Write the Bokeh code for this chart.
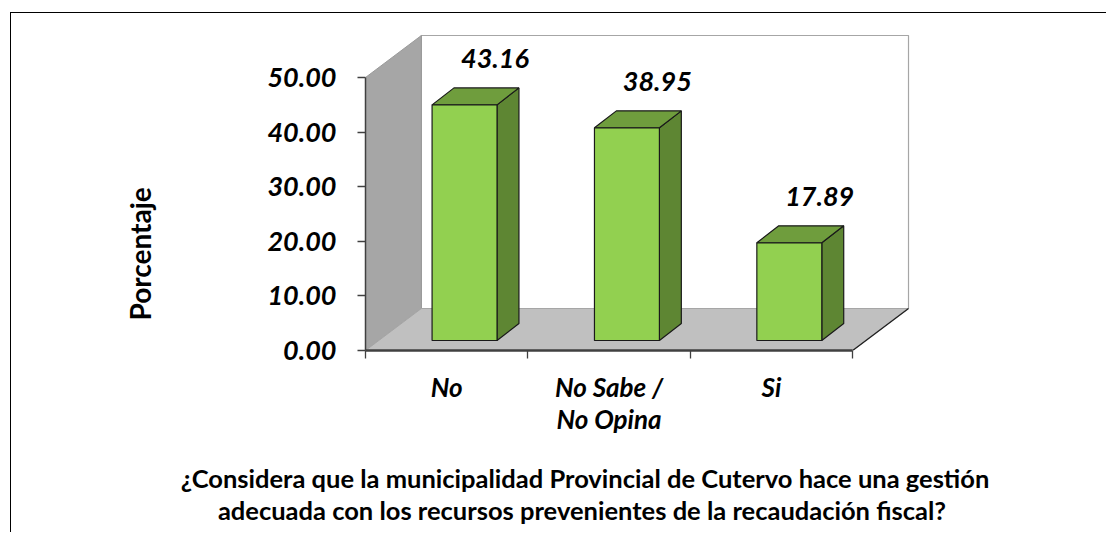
from bokeh.plotting import figure
from bokeh.models import Range1d, FixedTicker, LinearAxis, PrintfTickFormatter, Title
from bokeh.core.properties import value
from bokeh.embed import file_html
from bokeh.resources import INLINE

# ---- data ----
cat_line1 = ["No", "No Sabe /", "Si"]
cat_line2 = ["", "No Opina", ""]
values = [43.16, 38.95, 17.89]
y_ticks = [0, 10, 20, 30, 40, 50]
y_label = "Porcentaje"
title_lines = ["¿Considera que la municipalidad Provincial de Cutervo hace una gestión",
               "adecuada con los recursos prevenientes  de la recaudación fiscal?"]

# ---- style / projection constants ----
FONT = "Lato"
DX, DY = 0.344, 7.69          # depth offset of the 3D box (x in category units, y in value units)
BOFF_X, BOFF_Y = 0.11, 1.83   # bar front face offset
BAR_W = 0.40
SDX, SDY = 0.135, 3.11        # bar depth
TITLE_X = 1.352               # horizontal centre of the chart title (x units)
N = len(values)
YMAX = y_ticks[-1]

p = figure(width=1096, height=520,
           x_range=Range1d(0, 3.658), y_range=Range1d(0, 60.44),
           x_axis_type=None, y_axis_type=None,
           output_backend="svg", toolbar_location=None,
           min_border_left=354, min_border_right=148,
           min_border_top=7, min_border_bottom=183)
p.outline_line_color = None
p.background_fill_color = "white"
p.border_fill_color = "white"
p.styles = {"border-top": "1px solid #000000", "border-left": "1px solid #000000",
            "margin-left": "10px", "margin-top": "12px"}

# ---- walls & floor ----
p.patch([DX, N + DX, N + DX, DX], [DY, DY, YMAX + DY, YMAX + DY],
        fill_color="white", line_color="#A6A6A6", line_width=1.2)
p.patch([0, 0, DX, DX], [0, YMAX, YMAX + DY, DY],
        fill_color="#A6A6A6", line_color="#9A9A9A", line_width=1)
p.patch([0, N, N + DX, DX], [0, 0, DY, DY],
        fill_color="#C0C0C0", line_color="#A6A6A6", line_width=1)
p.line([N, N + DX], [0, DY], line_color="#202020", line_width=1.3)

# ---- 3D bars ----
for i, v in enumerate(values):
    x0 = i + BOFF_X + (1 - BAR_W) / 2
    x1 = x0 + BAR_W
    yb = BOFF_Y
    yt = BOFF_Y + v
    p.patch([x1, x1 + SDX, x1 + SDX, x1], [yb, yb + SDY, yt + SDY, yt],
            fill_color="#5E8633", line_color="#1A1A1A", line_width=1.2)
    p.patch([x0, x1, x1 + SDX, x0 + SDX], [yt, yt, yt + SDY, yt + SDY],
            fill_color="#6F9D3D", line_color="#1A1A1A", line_width=1.2)
    p.patch([x0, x1, x1, x0], [yb, yb, yt, yt],
            fill_color="#92D050", line_color="#1A1A1A", line_width=1.2)

# data labels
lx = [i + 0.5 + BOFF_X + 0.187 for i in range(N)]
ly = [v + BOFF_Y + 8.4 for v in values]
p.text(x=lx, y=ly, text=[f"{v:.2f}" for v in values],
       text_font=value(FONT), text_font_style="bold italic", text_font_size="27px",
       text_align="center", text_baseline="middle", text_color="black")

# ---- y axis ----
yax = LinearAxis(ticker=FixedTicker(ticks=y_ticks), formatter=PrintfTickFormatter(format="%.2f"),
                 bounds=(0, YMAX))
yax.axis_line_color = "#404040"
yax.axis_line_width = 1.5
yax.major_tick_in = 0
yax.major_tick_out = 8
yax.major_tick_line_color = "#404040"
yax.major_tick_line_width = 1.5
yax.minor_tick_line_color = None
yax.major_label_standoff = 21
yax.major_label_text_font = FONT
yax.major_label_text_font_style = "bold italic"
yax.major_label_text_font_size = "27px"
yax.major_label_text_color = "black"
p.add_layout(yax, "left")

p.add_layout(Title(text=y_label, align="left", offset=30, standoff=216,
                   text_font=FONT, text_font_style="bold", text_font_size="28px",
                   text_color="black"), "left")

# ---- x axis (category boundaries as minor ticks) ----
xax = LinearAxis(ticker=FixedTicker(ticks=[i + 0.5 for i in range(N)],
                                    minor_ticks=list(range(N + 1))),
                 bounds=(0, N))
xax.major_label_overrides = {i + 0.5: c for i, c in enumerate(cat_line1)}
xax.axis_line_color = "#404040"
xax.axis_line_width = 2.5
xax.major_tick_in = 0
xax.major_tick_out = 0
xax.minor_tick_in = 0
xax.minor_tick_out = 8
xax.minor_tick_line_color = "#404040"
xax.minor_tick_line_width = 1.3
xax.major_label_standoff = 12
xax.major_label_text_font = FONT
xax.major_label_text_font_style = "bold italic"
xax.major_label_text_font_size = "26px"
xax.major_label_text_color = "black"
p.add_layout(xax, "below")


def text_row(ticks, labels, standoff, size, style):
    ax = LinearAxis(ticker=FixedTicker(ticks=ticks))
    ax.major_label_overrides = dict(zip(ticks, labels))
    ax.axis_line_color = None
    ax.major_tick_line_color = None
    ax.minor_tick_line_color = None
    ax.major_tick_in = 0
    ax.major_tick_out = 0
    ax.major_label_standoff = standoff
    ax.major_label_text_font = FONT
    ax.major_label_text_font_style = style
    ax.major_label_text_font_size = size
    ax.major_label_text_color = "black"
    p.add_layout(ax, "below")


# second line of the category labels
text_row([i + 0.5 for i, c in enumerate(cat_line2) if c], [c for c in cat_line2 if c],
         -3, "26px", "bold italic")
# chart title, two centred lines
text_row([TITLE_X], [title_lines[0]], 25, "25.5px", "bold")
text_row([TITLE_X], [title_lines[1]], -1, "25.5px", "bold")

open("out.html", "w").write(file_html(p, INLINE))
